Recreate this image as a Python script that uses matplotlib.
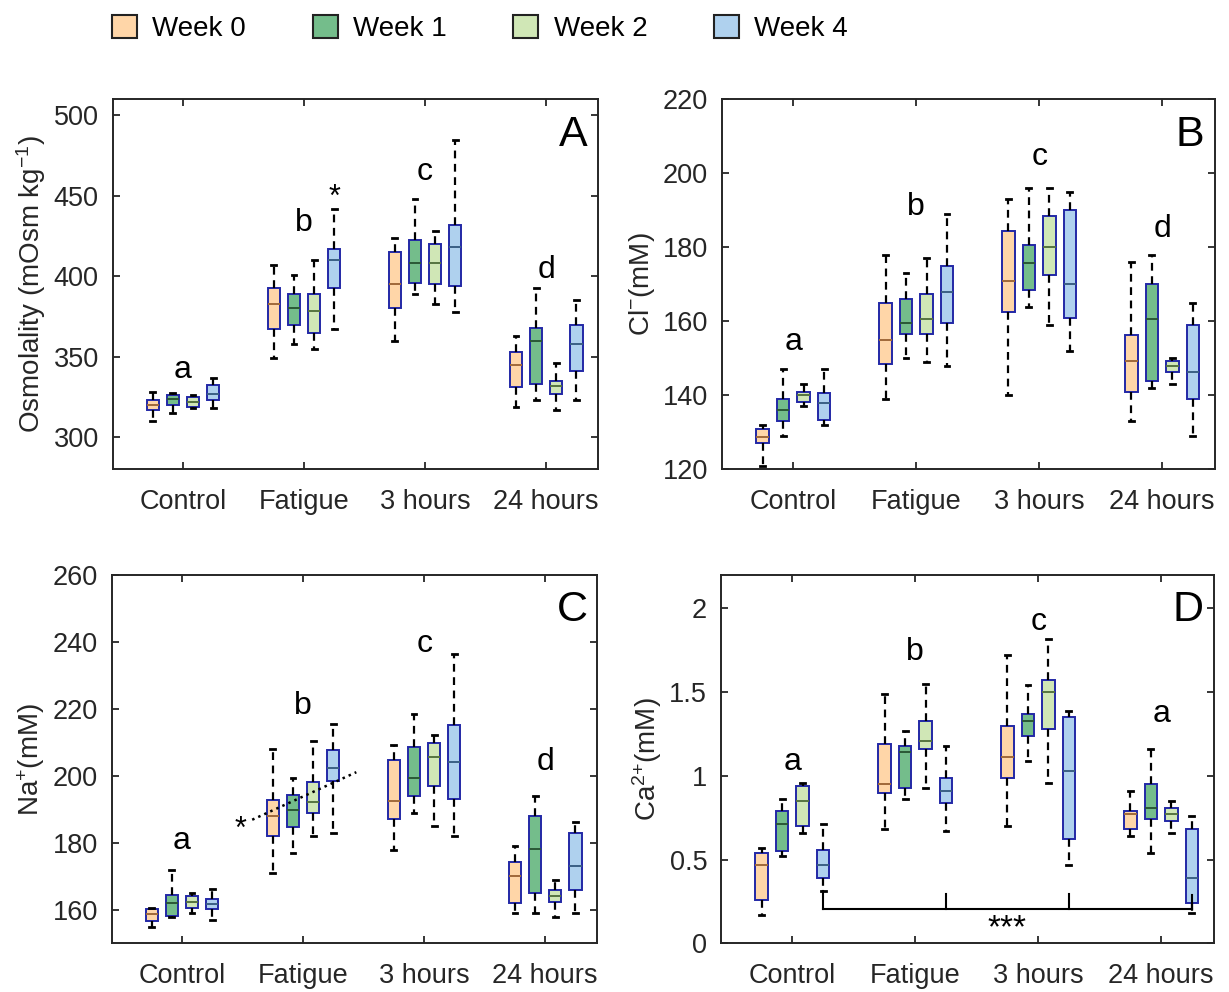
import matplotlib
matplotlib.use("Agg")
import matplotlib.pyplot as plt
from matplotlib.patches import Patch

plt.rcParams['font.family'] = ['Liberation Sans', 'DejaVu Sans']
plt.rcParams['mathtext.default'] = 'regular'

groups = ['Control', 'Fatigue', '3 hours', '24 hours']
weeks = ['Week 0', 'Week 1', 'Week 2', 'Week 4']
week_colors = ['#FFD6A8', '#74BD8B', '#D0E7B6', '#AFD1EE']
median_colors = ['#A0693A', '#2A5836', '#557340', '#3A5F85']
week_offsets = [-0.25, -0.0833, 0.0833, 0.25]

# rows = groups (Control, Fatigue, 3 h, 24 h), columns = weeks (0, 1, 2, 4)
osm_lo = [[310, 315, 318, 318], [349, 358, 355, 367], [360, 389, 383, 378], [319, 323, 317, 323]]
osm_q1 = [[317, 320, 319, 323], [367.5, 370, 365, 393], [380, 396, 395, 394], [331, 333, 327, 341]]
osm_med = [[320, 323.5, 322, 327], [383, 380, 378.5, 410], [395, 408, 408.5, 418], [345, 360, 331.5, 358]]
osm_q3 = [[323, 326.5, 325, 332.5], [393, 389, 389, 417], [415, 422.5, 420, 432], [353, 368, 335, 370]]
osm_hi = [[328, 327.5, 326, 337], [407, 401, 410, 442], [424, 448, 428, 485], [363, 393, 346, 385]]

cl_lo = [[121, 129, 137, 132], [139, 150, 149, 148], [140, 164, 159, 152], [133, 142, 143, 129]]
cl_q1 = [[127, 133, 138.3, 133.2], [148.4, 156.5, 156.5, 159.5], [162.6, 168.5, 172.5, 160.8], [140.8, 144, 146.4, 139]]
cl_med = [[128.8, 136, 140, 138], [155, 159.5, 160.5, 168], [171, 175.7, 180, 170], [149.4, 160.5, 148, 146.4]]
cl_q3 = [[131, 139, 141, 140.5], [165, 166, 167.5, 175], [184.5, 180.5, 188.5, 190], [156.3, 170, 149.3, 159]]
cl_hi = [[132, 147, 143, 147], [178, 173, 177, 189], [193, 196, 196, 195], [176, 178, 150, 165]]

na_lo = [[155, 158, 159, 157], [171, 177, 182, 183], [178, 189, 185, 182], [159, 159, 158, 159]]
na_q1 = [[156.6, 158.3, 160.6, 160.1], [182, 184.6, 189, 198.5], [187, 194, 197, 193], [162, 165, 162.4, 166]]
na_med = [[158.6, 162, 162.4, 161.6], [188, 189.7, 192.3, 202.3], [192.6, 199.3, 205.7, 204.2], [170.2, 178.2, 164, 173]]
na_q3 = [[160.3, 164.3, 164.1, 163.3], [192.8, 194.3, 198.3, 207.7], [204.7, 208.7, 209.7, 215.2], [174.2, 188, 165.8, 183]]
na_hi = [[160.5, 172, 165, 166.3], [208, 199.3, 210.4, 215.5], [209.2, 218.4, 212.2, 236.3], [179.2, 194, 169, 186.2]]

ca_lo = [[0.17, 0.52, 0.66, 0.31], [0.68, 0.86, 0.93, 0.67], [0.70, 1.09, 0.96, 0.47], [0.64, 0.54, 0.66, 0.18]]
ca_q1 = [[0.26, 0.55, 0.70, 0.39], [0.90, 0.93, 1.16, 0.84], [0.99, 1.24, 1.28, 0.62], [0.685, 0.74, 0.73, 0.24]]
ca_med = [[0.47, 0.71, 0.85, 0.47], [0.95, 1.14, 1.21, 0.91], [1.11, 1.33, 1.50, 1.03], [0.77, 0.81, 0.77, 0.39]]
ca_q3 = [[0.54, 0.79, 0.94, 0.56], [1.19, 1.18, 1.33, 0.99], [1.30, 1.37, 1.57, 1.35], [0.79, 0.95, 0.81, 0.68]]
ca_hi = [[0.57, 0.86, 0.96, 0.71], [1.49, 1.27, 1.55, 1.18], [1.72, 1.54, 1.82, 1.39], [0.91, 1.16, 0.85, 0.76]]

# significance letters (per group) and their heights
osm_letters, osm_letter_y = ['a', 'b', 'c', 'd'], [342, 433, 465, 404]
cl_letters, cl_letter_y = ['a', 'b', 'c', 'd'], [154.5, 191, 204.5, 185]
na_letters, na_letter_y = ['a', 'b', 'c', 'd'], [180.4, 221, 239.5, 204.2]
ca_letters, ca_letter_y = ['a', 'b', 'c', 'a'], [1.08, 1.74, 1.92, 1.37]

frame_col = '#262626'


def draw_panel(ax, lo, q1, med, q3, hi, ylim, yticks, yticklabels, ylabel, tag, letters, letter_y):
    for w in range(4):
        stats = []
        for g in range(4):
            stats.append(dict(whislo=lo[g][w], q1=q1[g][w], med=med[g][w],
                              q3=q3[g][w], whishi=hi[g][w], fliers=[]))
        pos = [g + 1 + week_offsets[w] for g in range(4)]
        ax.bxp(stats, positions=pos, widths=0.1, capwidths=0.04, patch_artist=True,
               showfliers=False, manage_ticks=False,
               boxprops=dict(facecolor=week_colors[w], edgecolor='#2228A6', linewidth=1.4),
               medianprops=dict(color=median_colors[w], linewidth=1.4),
               whiskerprops=dict(color='black', linewidth=1.6, linestyle=(0, (3.5, 2.5))),
               capprops=dict(color='black', linewidth=2.0))
    for g in range(4):
        ax.text(g + 1, letter_y[g], letters[g], ha='center', va='center', fontsize=23)
    ax.text(0.948, 0.904, tag, transform=ax.transAxes, ha='center', va='center', fontsize=31)
    ax.set_xlim(0.42, 4.43)
    ax.set_ylim(*ylim)
    ax.set_xticks([1, 2, 3, 4])
    ax.set_xticklabels(groups)
    ax.set_yticks(yticks)
    ax.set_yticklabels(yticklabels)
    ax.set_ylabel(ylabel, fontsize=20, labelpad=4, color=frame_col)
    ax.tick_params(direction='in', length=5, width=1.3, top=True, right=True,
                   labelsize=19.5, colors=frame_col)
    ax.tick_params(axis='x', pad=14)
    ax.tick_params(axis='y', pad=10)
    for s in ax.spines.values():
        s.set_linewidth(1.4)
        s.set_color(frame_col)


fig = plt.figure(figsize=(12.29, 9.92), dpi=100)
axA = fig.add_axes([0.0917, 0.5269, 0.3951, 0.373])
axB = fig.add_axes([0.5875, 0.5269, 0.4011, 0.373])
axC = fig.add_axes([0.0909, 0.0491, 0.3951, 0.3713])
axD = fig.add_axes([0.5867, 0.0491, 0.4011, 0.3713])

draw_panel(axA, osm_lo, osm_q1, osm_med, osm_q3, osm_hi, (280, 510),
           [300, 350, 400, 450, 500], ['300', '350', '400', '450', '500'],
           'Osmolality (mOsm kg$^{-1}$)', 'A', osm_letters, osm_letter_y)
axA.text(2.25, 449, '*', ha='center', va='center', fontsize=22)

draw_panel(axB, cl_lo, cl_q1, cl_med, cl_q3, cl_hi, (120, 220),
           [120, 140, 160, 180, 200, 220], ['120', '140', '160', '180', '200', '220'],
           'Cl$^{-}$(mM)', 'B', cl_letters, cl_letter_y)

draw_panel(axC, na_lo, na_q1, na_med, na_q3, na_hi, (150, 260),
           [160, 180, 200, 220, 240, 260], ['160', '180', '200', '220', '240', '260'],
           'Na$^{+}$(mM)', 'C', na_letters, na_letter_y)
# trend line across the Fatigue group
axC.plot([1.58, 2.44], [186.9, 201.1], color='black', linestyle=':', linewidth=1.8)
axC.text(1.48, 183.8, '*', ha='center', va='center', fontsize=22)

draw_panel(axD, ca_lo, ca_q1, ca_med, ca_q3, ca_hi, (0, 2.2),
           [0, 0.5, 1, 1.5, 2], ['0', '0.5', '1', '1.5', '2'],
           'Ca$^{2{+}}$(mM)', 'D', ca_letters, ca_letter_y)
# Week 4 comparison bracket
br_x = [1.25, 2.25, 3.25, 4.25]
br_top = [0.31, 0.295, 0.295, 0.29]
axD.plot([br_x[0], br_x[-1]], [0.205, 0.205], color='black', linewidth=1.5)
for bx, bt in zip(br_x, br_top):
    axD.plot([bx, bx], [0.205, bt], color='black', linewidth=1.5)
axD.text(2.75, 0.085, '***', ha='center', va='center', fontsize=24)

handles = [Patch(facecolor=c, edgecolor='#222222', linewidth=1.5, label=w)
           for c, w in zip(week_colors, weeks)]
fig.legend(handles=handles, loc='upper left', bbox_to_anchor=(0.091, 0.985), ncol=4,
           frameon=False, fontsize=20, handlelength=0.9, handleheight=0.9,
           handletextpad=0.55, columnspacing=2.4, borderpad=0, borderaxespad=0)

fig.savefig('out.png', dpi=100)
